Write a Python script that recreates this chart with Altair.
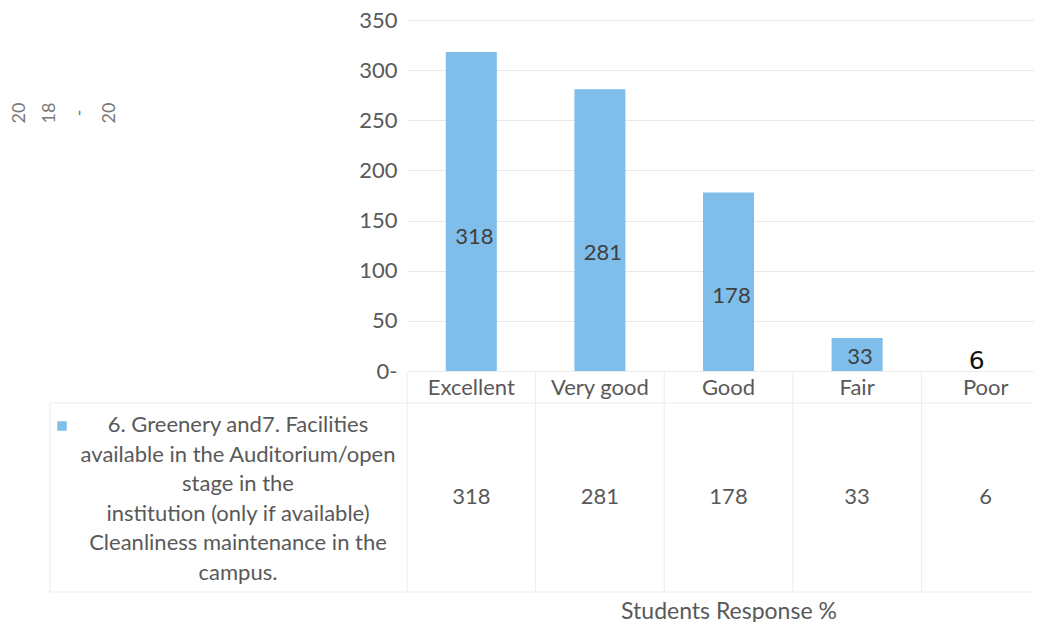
import altair as alt
import pandas as pd

categories = ["Excellent", "Very good", "Good", "Fair", "Poor"]
values = [318, 281, 178, 33, 6]
series_lines = [
    "6. Greenery and7. Facilities",
    "available in the Auditorium/open",
    "stage in the",
    "institution (only if available)",
    "Cleanliness maintenance in the",
    "campus.",
]
side_lines = ["20", "18", "-", "20"]
x_title = "Students Response %"
y_ticks = [0, 50, 100, 150, 200, 250, 300, 350]

BAR = "#7fbdea"
GRAY = "#595959"
FONT = "Lato"
LINE = "#ececec"
FS = 22

df = pd.DataFrame({"cat": categories, "val": values})

xscale = alt.Scale(domain=categories, range=[0, 643], paddingInner=0, paddingOuter=0)
yscale = alt.Scale(domain=[0, 350], nice=False)

base = alt.Chart(df)
X = alt.X("cat:N", scale=xscale, sort=categories)

bars = base.transform_filter("datum.cat != 'Poor'").mark_bar(width=51, color=BAR).encode(
    x=alt.X("cat:N", scale=xscale, sort=categories,
            axis=alt.Axis(title=x_title, labelAngle=0, labelFontSize=FS, labelColor=GRAY,
                          labelFont=FONT, labelPadding=6, tickSize=0, domainColor=LINE,
                          titleFont=FONT, titleFontSize=23, titleColor=GRAY,
                          titleFontWeight="normal", titlePadding=202)),
    y=alt.Y("val:Q", scale=yscale,
            axis=alt.Axis(title=None, values=y_ticks, labelFontSize=FS, labelColor=GRAY,
                          labelFont=FONT, labelPadding=10, tickSize=0, domain=False,
                          gridColor="#e8e8e8", labelExpr="datum.value == 0 ? '0-' : datum.label")),
)

labels = base.transform_filter("datum.cat != 'Poor'").transform_calculate(
    ly="datum.val * 0.42"
).mark_text(font=FONT, fontSize=FS, color="#404040", dx=3).encode(
    x=X,
    y=alt.Y("ly:Q", scale=yscale),
    text="val:Q",
)

hand = base.transform_filter("datum.cat == 'Poor'").mark_text(
    font="DejaVu Sans", fontSize=25, color="#111111", dx=-9, dy=-4
).encode(
    x=X,
    y=alt.Y("val:Q", scale=yscale),
    text="val:Q",
)

table_vals = base.mark_text(font=FONT, fontSize=FS, color=GRAY).encode(
    x=X,
    y=alt.value(477),
    text="val:Q",
)

vlines = base.mark_rule(color=LINE, strokeWidth=1).encode(
    x=alt.X("cat:N", scale=xscale, sort=categories, bandPosition=0),
    y=alt.value(352),
    y2=alt.value(572),
)

one = pd.DataFrame({"k": [0]})

hline_top = alt.Chart(one).mark_rule(color=LINE).encode(
    x=alt.value(-357), x2=alt.value(626), y=alt.value(383)
)
hline_bottom = alt.Chart(one).mark_rule(color=LINE).encode(
    x=alt.value(-357), x2=alt.value(626), y=alt.value(572)
)
left_border = alt.Chart(one).mark_rule(color=LINE).encode(
    x=alt.value(-357), y=alt.value(383), y2=alt.value(572)
)

swatch = alt.Chart(one).mark_square(size=90, color=BAR, opacity=1).encode(
    x=alt.value(-345), y=alt.value(406)
)

series_text = alt.Chart(one).mark_text(
    text=series_lines, font=FONT, fontSize=FS, color=GRAY, lineHeight=29.5,
    align="center", baseline="middle"
).encode(x=alt.value(-169), y=alt.value(405))

side_text = alt.Chart(one).mark_text(
    text=side_lines, font=FONT, fontSize=18, color="#777777", lineHeight=30,
    angle=270, align="center", baseline="middle"
).encode(x=alt.value(-387), y=alt.value(93))

chart = alt.layer(
    bars, labels, hand, table_vals, vlines, hline_top, hline_bottom, left_border,
    swatch, series_text, side_text
).properties(
    width=626, height=351,
    autosize=alt.AutoSizeParams(type="none"),
    padding={"left": 399, "top": 12, "right": 1, "bottom": 251},
).configure_view(stroke=None)

chart.save("out.html", embed_options={"renderer": "svg", "actions": False})
